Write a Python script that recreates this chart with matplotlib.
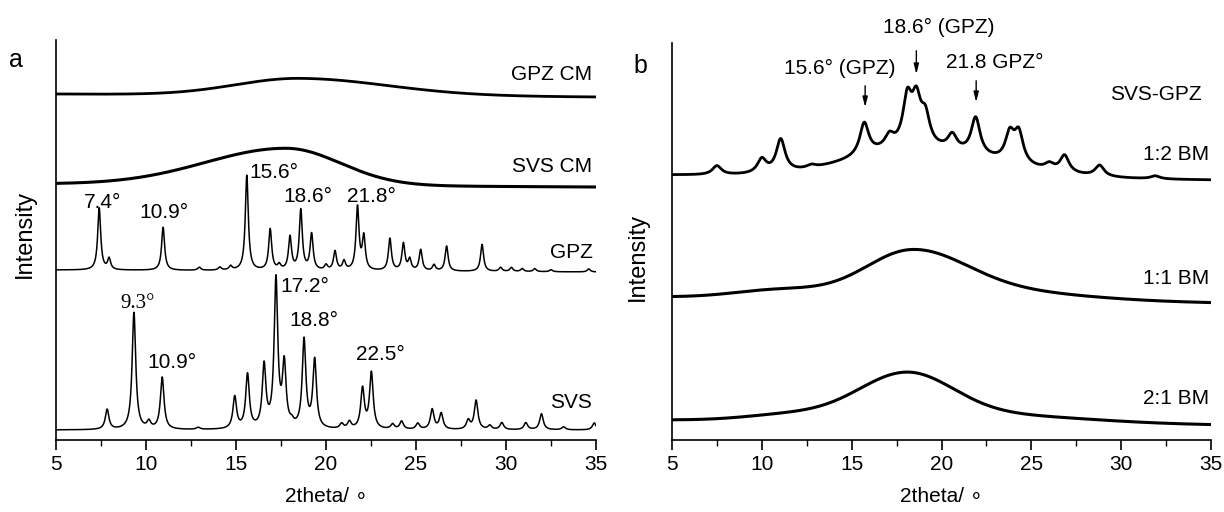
import numpy as np
import matplotlib
matplotlib.use("Agg")
import matplotlib.pyplot as plt
from matplotlib.ticker import MultipleLocator

plt.rcParams['font.family'] = ['Liberation Sans', 'DejaVu Sans']

# y values are heights above the x axis (in axis units, 0..400)
x = np.linspace(5, 35, 6001)

# ---- panel a ----
# crystalline patterns: baseline (left, right), peak positions, heights, FWHM
gpz_base = (170, 168)
gpz_pos = [7.4, 7.95, 10.95, 12.96, 14.1, 14.7, 15.6, 16.9, 17.4, 18.0, 18.6, 19.2, 20.0, 20.5, 21.0,
           21.75, 22.1, 23.55, 24.3, 24.65, 25.26, 26.0, 26.7, 28.67, 29.7, 30.3, 30.9, 31.6, 32.5, 34.6]
gpz_h = [62, 11, 43, 3, 3, 4, 95, 41, 5, 33, 60, 36, 5, 19, 9,
         63, 33, 32, 27, 11, 21, 6, 25, 27, 4, 4, 3, 3, 2, 3]
gpz_w = 0.2

svs_base = (10, 10)
svs_pos = [7.84, 9.33, 10.16, 10.9, 12.9, 14.93, 15.64, 16.56, 17.22, 17.68, 18.1, 18.78, 19.37, 20.87, 21.3,
           22.03, 22.52, 23.7, 24.2, 25.1, 25.9, 26.4, 27.9, 28.34, 29.1, 29.77, 31.1, 31.97, 33.2, 34.9]
svs_h = [20, 117, 7, 52, 2, 32, 54, 62, 148, 62, 4, 88, 68, 5, 7,
         40, 56, 5, 8, 6, 20, 16, 9, 29, 4, 7, 7, 16, 3, 7]
svs_w = 0.24

# amorphous patterns: baseline (left, right), hump centre, height, sigma left, sigma right
gpz_cm_base = (346, 343)
gpz_cm_hump = (18.5, 17, 3.5, 4.9)
svs_cm_base = (256, 253)
svs_cm_hump = (17.8, 37, 4.5, 3.0)

# ---- panel b ----
bm12_base = (265, 260)
bm12_hump = (18.5, 28, 3.5, 4.5)
bm12_pos = [7.5, 10.0, 11.05, 12.75, 15.7, 17.1, 18.1, 18.6, 19.1, 20.6, 21.9, 23.8, 24.3, 26.0, 26.85, 28.8, 31.9]
bm12_h = [9, 14, 33, 3, 32, 12, 46, 42, 28, 15, 37, 27, 30, 6, 17, 11, 3]
bm12_w = 0.6

bm11_base = (143, 137)
bm11_humps = [(18.3, 43, 2.6, 3.0), (11.0, 8, 2.5, 2.5), (22.5, 10, 5.0, 5.0)]
bm21_base = (20, 15)
bm21_humps = [(18.0, 45, 2.7, 2.6), (11.5, 6, 2.5, 2.5), (23.0, 8, 5.0, 5.0)]


def baseline(b):
    return b[0] + (b[1] - b[0]) * (x - 5) / 30


def hump(c, h, sl, sr):
    s = np.where(x < c, sl, sr)
    return h * np.exp(-(x - c) ** 2 / (2 * s ** 2))


def peaks(pos, h, w):
    y = np.zeros_like(x)
    g = w / 2
    for p, a in zip(pos, h):
        y += a * g ** 2 / ((x - p) ** 2 + g ** 2)
    return y


fig = plt.figure(figsize=(12.24, 5.12), dpi=100)
ax_a = fig.add_axes([56 / 1224, 1 - 440 / 512, 540 / 1224, 400 / 512])
ax_b = fig.add_axes([672 / 1224, 1 - 440 / 512, 539 / 1224, 397 / 512])

ax_a.plot(x, baseline(gpz_cm_base) + hump(*gpz_cm_hump), color='black', lw=2.0)
ax_a.plot(x, baseline(svs_cm_base) + hump(*svs_cm_hump), color='black', lw=2.2)
ax_a.plot(x, baseline(gpz_base) + peaks(gpz_pos, gpz_h, gpz_w), color='black', lw=1.1)
ax_a.plot(x, baseline(svs_base) + peaks(svs_pos, svs_h, svs_w), color='black', lw=1.1)

ax_b.plot(x, baseline(bm12_base) + hump(*bm12_hump) + peaks(bm12_pos, bm12_h, bm12_w), color='black', lw=2.0)
y11 = baseline(bm11_base)
for hp in bm11_humps:
    y11 = y11 + hump(*hp)
ax_b.plot(x, y11, color='black', lw=2.2)
y21 = baseline(bm21_base)
for hp in bm21_humps:
    y21 = y21 + hump(*hp)
ax_b.plot(x, y21, color='black', lw=2.2)

for ax, top in [(ax_a, 400), (ax_b, 397)]:
    ax.set_xlim(5, 35)
    ax.set_ylim(0, top)
    ax.spines['top'].set_visible(False)
    ax.spines['right'].set_visible(False)
    ax.spines['left'].set_linewidth(1.2)
    ax.spines['bottom'].set_linewidth(1.2)
    ax.set_yticks([])
    ax.xaxis.set_major_locator(MultipleLocator(5))
    ax.xaxis.set_minor_locator(MultipleLocator(2.5))
    ax.tick_params(axis='x', which='major', direction='out', length=7, width=1.2, labelsize=15, pad=4)
    ax.tick_params(axis='x', which='minor', direction='out', length=4, width=1.0)

fs = 15
# panel a labels
for txt, yy in [('GPZ CM', 365), ('SVS CM', 273), ('GPZ', 188), ('SVS', 38)]:
    ax_a.text(34.8, yy, txt, ha='right', va='center', fontsize=fs)
for txt, xx, yy in [('7.4°', 7.6, 237), ('10.9°', 11.0, 228), ('15.6°', 17.1, 267), ('18.6°', 19.0, 243),
                    ('21.8°', 22.5, 243), ('17.2°', 18.8, 153), ('18.8°', 19.3, 120), ('10.9°', 11.46, 78),
                    ('22.5°', 23.0, 85)]:
    ax_a.text(xx, yy, txt, ha='center', va='center', fontsize=fs)
ax_a.text(9.55, 137, '9.3°', ha='center', va='center', fontsize=fs, family=['Liberation Serif', 'DejaVu Serif'])

# panel b labels
ax_b.text(19.86, 413, '18.6° (GPZ)', ha='center', va='center', fontsize=fs)
ax_b.text(14.33, 372, '15.6° (GPZ)', ha='center', va='center', fontsize=fs)
ax_b.text(22.96, 377, '21.8 GPZ°', ha='center', va='center', fontsize=fs)
for xx, y0, y1 in [(15.75, 357, 330), (18.6, 392, 363), (21.93, 362, 335)]:
    ax_b.annotate('', xy=(xx, y1), xytext=(xx, y0),
                  arrowprops=dict(arrowstyle='-|>,head_width=0.15,head_length=0.6', color='black', lw=1.0))
ax_b.text(34.5, 345, 'SVS-GPZ', ha='right', va='center', fontsize=fs)
for txt, yy in [('1:2 BM', 285), ('1:1 BM', 162), ('2:1 BM', 42)]:
    ax_b.text(34.9, yy, txt, ha='right', va='center', fontsize=fs)

# axis titles and panel letters
fig.text(326 / 1224, 1 - 497 / 512, '2theta/ ∘', ha='center', va='center', fontsize=fs)
fig.text(941 / 1224, 1 - 497 / 512, '2theta/ ∘', ha='center', va='center', fontsize=fs)
fig.text(25 / 1224, 1 - 234 / 512, 'Intensity', ha='center', va='center', rotation=90, fontsize=17)
fig.text(638 / 1224, 1 - 257 / 512, 'Intensity', ha='center', va='center', rotation=90, fontsize=17)
fig.text(16 / 1224, 1 - 60 / 512, 'a', ha='center', va='center', fontsize=18)
fig.text(640 / 1224, 1 - 66 / 512, 'b', ha='center', va='center', fontsize=18)

fig.savefig('out.png', dpi=100)
